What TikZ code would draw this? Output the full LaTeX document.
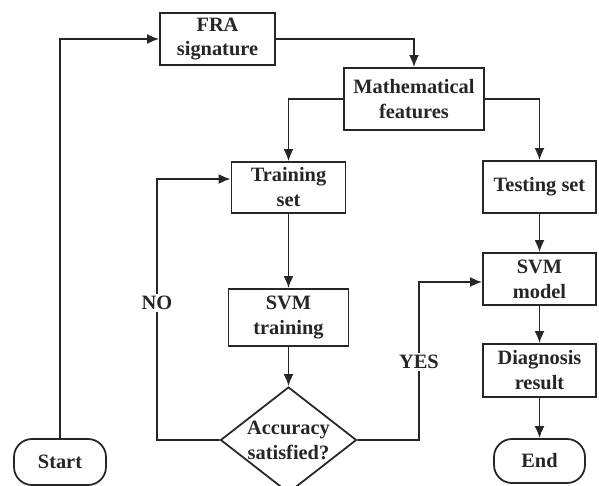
\documentclass[tikz,border=0pt]{standalone}
\usepackage{fontspec}
\setmainfont{Liberation Serif}
\usepackage{tikz}
\usetikzlibrary{shapes.geometric,arrows.meta}
\usepackage{xcolor}

\begin{document}
\begin{tikzpicture}[x=0.02cm, y=-0.02cm,
	box/.style={draw=black!85, line width=1pt, fill=white, align=center, inner sep=0pt,
		font=\bfseries\fontsize{11.6}{14.2}\selectfont, text=black!85},
	endbox/.style={box, rounded corners=0.36cm},
	decision/.style={box, diamond, aspect=1.28, minimum width=2.72cm, minimum height=2.12cm},
	flow/.style={draw=black!85, line width=1.1pt, -{Latex[length=2.4mm,width=2mm]}},
	lbl/.style={fill=white, inner sep=1pt, font=\bfseries\fontsize{11.6}{14.2}\selectfont, text=black!85}]
					\useasboundingbox (0,0) rectangle (599,486);
					
					\node[box, minimum width=2.3cm, minimum height=1.04cm] (fra) at (217.5, 39) {FRA\\signature};
					\node[box, minimum width=2.8cm, minimum height=1.24cm] (math) at (414, 99) {Mathematical\\features};
					\node[box, minimum width=2.28cm, minimum height=1.02cm] (train) at (288.5, 187.5) {Training\\set};
					\node[box, minimum width=2.26cm, minimum height=1.04cm] (test) at (539.5, 187) {Testing set};
					\node[box, minimum width=2.4cm, minimum height=1.14cm] (svmtrain) at (288.5, 317.5) {SVM\\training};
					\node[decision] (dec) at (288.5, 440) {Accuracy\\satisfied?};
					\node[box, minimum width=2.26cm, minimum height=1.04cm] (model) at (539.5, 279) {SVM\\model};
					\node[box, minimum width=2.26cm, minimum height=1.06cm] (diag) at (539.5, 370.5) {Diagnosis\\result};
					\node[endbox, minimum width=1.82cm, minimum height=0.88cm] (end) at (539.5, 461) {End};
					\node[endbox, minimum width=1.84cm, minimum height=0.92cm] (start) at (60, 462) {Start};
					
					\coordinate (nocorner) at (157, 179);
					\coordinate (yescorner) at (419, 282);
					
					\draw[flow] (start.north) |- (fra.west);
					\draw[flow] (fra.east) -| (math.north);
					\draw[flow] (math.west) -| (train.north);
					\draw[flow] (math.east) -| (test.north);
					\draw[flow] (train.south) -- (svmtrain.north);
					\draw[flow] (svmtrain.south) -- (dec.north);
					\draw[flow] (dec.west) -| (nocorner) -- ([yshift=0.17cm]train.west);
					\draw[flow] (dec.east) -| (yescorner) -- ([yshift=-0.06cm]model.west);
					\draw[flow] (test.south) -- (model.north);
					\draw[flow] (model.south) -- (diag.north);
					\draw[flow] (diag.south) -- (end.north);
					
					\node[lbl] (no) at (157, 303) {NO};
					\node[lbl] (yes) at (419, 362) {YES};
					
				\end{tikzpicture}
\end{document}
